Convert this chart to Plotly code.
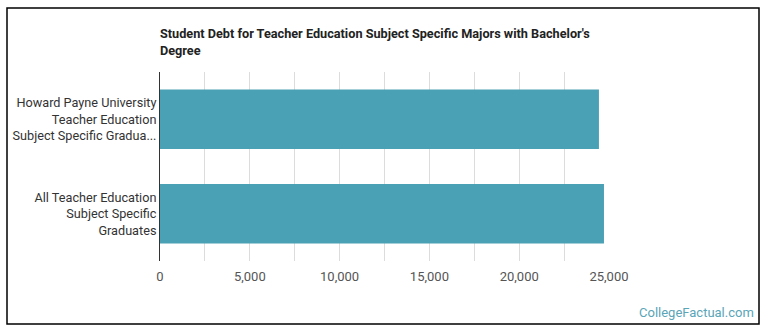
import plotly.graph_objects as go

categories = [
    "Howard Payne University<br>Teacher Education<br>Subject Specific Gradua...",
    "All Teacher Education<br>Subject Specific<br>Graduates",
]
values = [24440, 24720]
tick_vals = [0, 5000, 10000, 15000, 20000, 25000]
tick_text = ["0", "5,000", "10,000", "15,000", "20,000", "25,000"]
title_text = "Student Debt for Teacher Education Subject Specific Majors with Bachelor's<br>Degree"

W, H = 770, 335
L, R, T, B = 160, 161, 72, 74
pw = W - L - R
ph = H - T - B

def px(x):
    return (x - L) / pw

def py(y):
    return (H - B - y) / ph

fig = go.Figure()
fig.add_trace(go.Bar(
    x=values, y=categories, orientation="h",
    marker=dict(color="#4aa0b4", line=dict(width=0)),
    width=0.63, hoverinfo="x",
))

fig.update_layout(
    width=W, height=H,
    margin=dict(l=L, r=R, t=T, b=B, autoexpand=False),
    paper_bgcolor="white", plot_bgcolor="white",
    showlegend=False,
    font=dict(family="Roboto", size=13, color="#333"),
    xaxis=dict(
        range=[0, 25000], tickvals=tick_vals, ticktext=tick_text,
        showgrid=True, gridcolor="#dcdcdc", gridwidth=1,
        minor=dict(dtick=2500, showgrid=True, gridcolor="#dcdcdc", gridwidth=1),
        zeroline=False, showline=False, ticks="",
        ticklabelstandoff=6, automargin=False,
        tickfont=dict(family="Roboto", size=13, color="#555"),
        fixedrange=True,
    ),
    yaxis=dict(
        categoryorder="array", categoryarray=categories[::-1],
        showline=True, linecolor="#333", linewidth=1,
        showgrid=False, zeroline=False, ticks="",
        ticklabelstandoff=0, automargin=False,
        tickfont=dict(family="Roboto", size=12.7, color="#333"),
        fixedrange=True,
    ),
    shapes=[dict(
        type="rect", xref="paper", yref="paper",
        x0=px(7), x1=px(759), y0=py(324), y1=py(8),
        line=dict(color="black", width=1.5), fillcolor="rgba(0,0,0,0)",
    )],
    annotations=[
        dict(text="<b>" + title_text + "</b>", xref="paper", yref="paper",
             x=px(158), y=py(24), xanchor="left", yanchor="top", align="left",
             showarrow=False, font=dict(family="Roboto", size=12.7, color="#222")),
        dict(text="CollegeFactual.com", xref="paper", yref="paper",
             x=px(756), y=py(312), xanchor="right", yanchor="middle",
             showarrow=False, font=dict(family="Roboto", size=13, color="#5aa5b8")),
    ],
)

fig.write_html("out.html")
